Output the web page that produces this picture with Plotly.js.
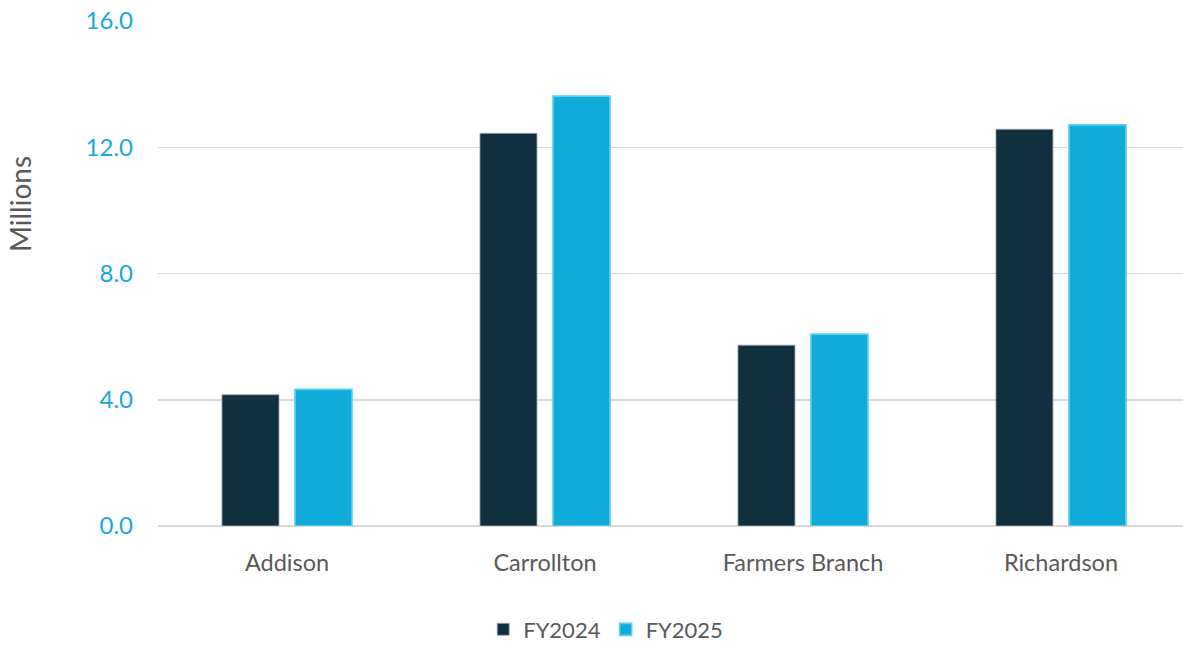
<!DOCTYPE html>
<html>
<head>
<meta charset="utf-8">
<script src="https://cdn.plot.ly/plotly-3.0.1.min.js"></script>
<style>html,body{margin:0;padding:0;overflow:hidden;background:#fff}</style>
</head>
<body>
<div id="chart" style="width:1183px;height:649px"></div>
<script>
const categories = ["Addison", "Carrollton", "Farmers Branch", "Richardson"];
const fy2024 = [4.16, 12.44, 5.73, 12.57];
const fy2025 = [4.33, 13.62, 6.08, 12.71];
const tickVals = [0, 4, 8, 12, 16];
const tickText = ["0.0", "4.0", "8.0", "12.0", "16.0"];
const yTitle = "Millions";

const data = [
  {type: "bar", name: "FY2024", x: categories, y: fy2024, width: 0.221, offset: -0.252,
   marker: {color: "#11303F", line: {color: "#9aa8b0", width: 0.8}}, hoverinfo: "y+name"},
  {type: "bar", name: "FY2025", x: categories, y: fy2025, width: 0.221, offset: 0.031,
   marker: {color: "#10ABD9", line: {color: "#5CD0F0", width: 1.6}}, hoverinfo: "y+name"}
];

const layout = {
  width: 1183, height: 649,
  margin: {l: 158, r: 0, t: 21, b: 123},
  paper_bgcolor: "#ffffff", plot_bgcolor: "#ffffff",
  font: {family: "Lato, 'Open Sans', sans-serif", size: 22, color: "#595959"},
  barmode: "overlay",
  showlegend: true,
  legend: {orientation: "h", xref: "container", yref: "container", x: 0.512, xanchor: "center",
           y: 0.03, yanchor: "middle", font: {size: 22, color: "#595959"},
           itemwidth: 30, traceorder: "normal"},
  xaxis: {type: "category", range: [-0.5, 3.473], showgrid: false, zeroline: false,
          showline: false, ticks: "", ticklabelstandoff: 20,
          tickfont: {size: 23.5, color: "#595959"}},
  yaxis: {range: [0, 16], tickvals: tickVals, ticktext: tickText, showgrid: true,
          gridcolor: "#d9d9d9", gridwidth: 1.5, zeroline: true, zerolinecolor: "#d9d9d9", zerolinewidth: 1.5,
          showline: false, ticks: "", ticklabelstandoff: 24,
          tickfont: {size: 24, color: "#17A8D8"}},
  annotations: [{text: yTitle, textangle: -90, xref: "paper", yref: "paper",
                 x: -0.1346, y: 0.6376, xanchor: "center", yanchor: "middle", showarrow: false,
                 font: {size: 28, color: "#595959"}}]
};

Plotly.newPlot("chart", data, layout, {displayModeBar: false, staticPlot: true});
</script>
</body>
</html>
